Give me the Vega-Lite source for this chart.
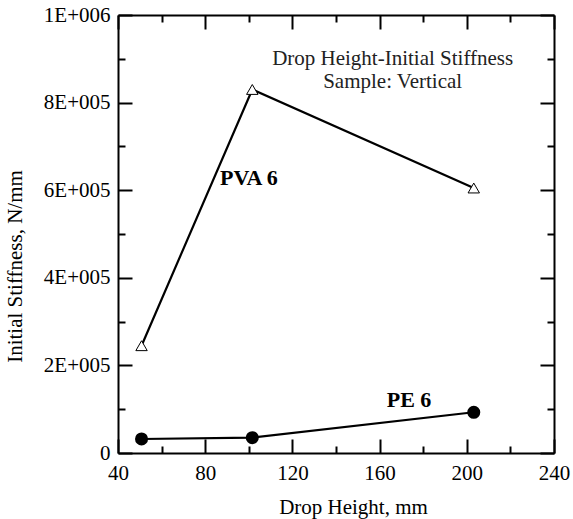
{
  "$schema": "https://vega.github.io/schema/vega-lite/v6.json",
  "width": 436,
  "height": 438,
  "autosize": "none",
  "padding": {"left": 118, "top": 15, "right": 19, "bottom": 66},
  "config": {"view": {"stroke": null}, "font": "Liberation Serif"},
  "datasets": {
    "pts": [
      {"series": "PVA 6", "x": 50.8, "y": 245000},
      {"series": "PVA 6", "x": 101.6, "y": 830000},
      {"series": "PVA 6", "x": 203.2, "y": 605000},
      {"series": "PE 6", "x": 50.8, "y": 32000},
      {"series": "PE 6", "x": 101.6, "y": 35000},
      {"series": "PE 6", "x": 203.2, "y": 93000}
    ],
    "labels": [
      {"x": 100, "y": 628000, "text": "PVA 6"},
      {"x": 173.5, "y": 121000, "text": "PE 6"}
    ],
    "notes": [
      {"x": 166, "y": 900000, "text": "Drop Height-Initial Stiffness"},
      {"x": 166, "y": 847000, "text": "Sample: Vertical"}
    ]
  },
  "resolve": {"axis": {"x": "independent", "y": "independent"}},
  "layer": [
    {
      "data": {"name": "pts"},
      "mark": {"type": "line", "color": "black", "strokeWidth": 2.2},
      "encoding": {
        "x": {
          "field": "x", "type": "quantitative",
          "scale": {"domain": [40, 240], "nice": false},
          "axis": {
            "orient": "bottom",
            "values": [40, 60, 80, 100, 120, 140, 160, 180, 200, 220, 240],
            "labelExpr": "datum.value % 40 == 0 ? datum.label : ''",
            "tickSize": {"condition": {"test": "datum.value % 40 == 0", "value": -14}, "value": -7},
            "tickWidth": 2, "tickColor": "black",
            "domainColor": "black", "domainWidth": 2,
            "labelFont": "Liberation Serif", "labelFontSize": 21, "labelColor": "black",
            "labelPadding": 23, "labelFlush": false, "labelOverlap": false,
            "grid": false,
            "title": "Drop Height, mm",
            "titleFont": "Liberation Serif", "titleFontSize": 21, "titleFontWeight": "normal",
            "titleColor": "black", "titlePadding": 6, "titleX": 235
          }
        },
        "y": {
          "field": "y", "type": "quantitative",
          "scale": {"domain": [0, 1000000], "nice": false},
          "axis": {
            "orient": "left",
            "values": [0, 100000, 200000, 300000, 400000, 500000, 600000, 700000, 800000, 900000, 1000000],
            "labelExpr": "datum.value == 0 ? '0' : (datum.value % 200000 != 0 ? '' : (datum.value == 1000000 ? '1E+006' : (datum.value / 100000) + 'E+005'))",
            "tickSize": {"condition": {"test": "datum.value % 200000 == 0", "value": -14}, "value": -7},
            "tickWidth": 2, "tickColor": "black",
            "domainColor": "black", "domainWidth": 2,
            "labelFont": "Liberation Serif", "labelFontSize": 21, "labelColor": "black",
            "labelPadding": 22, "labelFlush": false, "labelOverlap": false,
            "grid": false,
            "title": "Initial Stiffness, N/mm",
            "titleFont": "Liberation Serif", "titleFontSize": 21, "titleFontWeight": "normal",
            "titleColor": "black", "titlePadding": 18, "titleY": 251
          }
        },
        "detail": {"field": "series"}
      }
    },
    {
      "data": {"name": "pts"},
      "transform": [{"filter": "datum.series == 'PVA 6'"}],
      "mark": {"type": "point", "shape": "triangle-up", "filled": true, "fill": "white", "stroke": "black", "strokeWidth": 1, "size": 130, "opacity": 1},
      "encoding": {
        "x": {"field": "x", "type": "quantitative", "scale": {"domain": [40, 240], "nice": false}, "axis": null},
        "y": {"field": "y", "type": "quantitative", "scale": {"domain": [0, 1000000], "nice": false}, "axis": null}
      }
    },
    {
      "data": {"name": "pts"},
      "transform": [{"filter": "datum.series == 'PE 6'"}],
      "mark": {"type": "point", "shape": "circle", "filled": true, "color": "black", "size": 170, "opacity": 1},
      "encoding": {
        "x": {"field": "x", "type": "quantitative", "scale": {"domain": [40, 240], "nice": false}, "axis": null},
        "y": {"field": "y", "type": "quantitative", "scale": {"domain": [0, 1000000], "nice": false}, "axis": null}
      }
    },
    {
      "data": {"name": "labels"},
      "mark": {"type": "text", "font": "Liberation Serif", "fontSize": 22, "fontWeight": "bold", "color": "black", "align": "center", "baseline": "middle"},
      "encoding": {
        "x": {"field": "x", "type": "quantitative", "scale": {"domain": [40, 240], "nice": false}, "axis": null},
        "y": {"field": "y", "type": "quantitative", "scale": {"domain": [0, 1000000], "nice": false}, "axis": null},
        "text": {"field": "text"}
      }
    },
    {
      "data": {"name": "notes"},
      "mark": {"type": "text", "font": "Liberation Serif", "fontSize": 21, "color": "#222", "align": "center", "baseline": "middle"},
      "encoding": {
        "x": {"field": "x", "type": "quantitative", "scale": {"domain": [40, 240], "nice": false}, "axis": null},
        "y": {"field": "y", "type": "quantitative", "scale": {"domain": [0, 1000000], "nice": false}, "axis": null},
        "text": {"field": "text"}
      }
    },
    {
      "data": {"name": "pts"},
      "mark": {"type": "point", "opacity": 0},
      "encoding": {
        "x": {
          "field": "x", "type": "quantitative",
          "scale": {"domain": [40, 240], "nice": false},
          "axis": {
            "orient": "top",
            "values": [40, 60, 80, 100, 120, 140, 160, 180, 200, 220, 240],
            "labels": false,
            "tickSize": {"condition": {"test": "datum.value % 40 == 0", "value": -14}, "value": -7},
            "tickWidth": 2, "tickColor": "black",
            "domainColor": "black", "domainWidth": 2,
            "grid": false, "title": null
          }
        },
        "y": {
          "field": "y", "type": "quantitative",
          "scale": {"domain": [0, 1000000], "nice": false},
          "axis": {
            "orient": "right",
            "values": [0, 100000, 200000, 300000, 400000, 500000, 600000, 700000, 800000, 900000, 1000000],
            "labels": false,
            "tickSize": {"condition": {"test": "datum.value % 200000 == 0", "value": -14}, "value": -7},
            "tickWidth": 2, "tickColor": "black",
            "domainColor": "black", "domainWidth": 2,
            "grid": false, "title": null
          }
        }
      }
    }
  ]
}
